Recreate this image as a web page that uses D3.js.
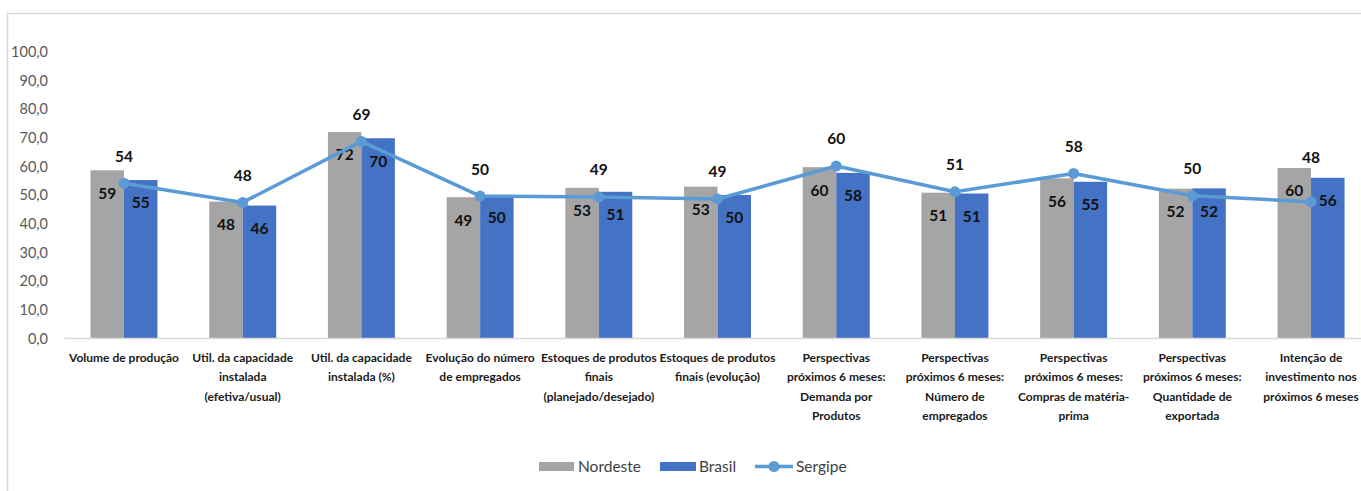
<!DOCTYPE html>
<html>
<head>
<meta charset="utf-8">
<script src="https://cdn.jsdelivr.net/npm/d3@7"></script>
<style>
  html, body { margin: 0; padding: 0; background: #fff; overflow: hidden; }
  svg { display: block; font-family: Lato, "Open Sans", sans-serif; }
</style>
</head>
<body>
<svg id="chart" width="1361" height="491"></svg>
<script>
const categories = [
  ["Volume de produção"],
  ["Util. da capacidade", "instalada", "(efetiva/usual)"],
  ["Util. da capacidade", "instalada (%)"],
  ["Evolução do número", "de empregados"],
  ["Estoques de produtos", "finais", "(planejado/desejado)"],
  ["Estoques de produtos", "finais (evolução)"],
  ["Perspectivas", "próximos 6 meses:", "Demanda por", "Produtos"],
  ["Perspectivas", "próximos 6 meses:", "Número de", "empregados"],
  ["Perspectivas", "próximos 6 meses:", "Compras de matéria-", "prima"],
  ["Perspectivas", "próximos 6 meses:", "Quantidade de", "exportada"],
  ["Intenção de", "investimento nos", "próximos 6 meses"]
];
const nordeste = [58.7, 47.8, 72.1, 49.3, 52.6, 53.0, 59.8, 50.9, 55.9, 52.3, 59.5];
const brasil   = [55.3, 46.4, 69.9, 50.1, 51.2, 50.1, 57.8, 50.6, 54.7, 52.4, 56.1];
const sergipe  = [54.2, 47.5, 68.8, 49.7, 49.4, 48.7, 60.2, 51.2, 57.6, 49.8, 47.7];
const yTicks = [0, 10, 20, 30, 40, 50, 60, 70, 80, 90, 100];
const seriesNames = ["Nordeste", "Brasil", "Sergipe"];

const colors = { Nordeste: "#A5A5A5", Brasil: "#4472C4", Sergipe: "#5B9BD5" };

const svg = d3.select("#chart");
svg.append("rect").attr("width", 1361).attr("height", 491).attr("fill", "#fff");

// chart frame (cropped on right)
svg.append("path").attr("d", "M7.5,491 V13.5 H1361")
  .attr("fill", "none").attr("stroke", "#D9D9D9").attr("stroke-width", 1.5);

const keys = categories.map((c, i) => i);
const x = d3.scaleBand().domain(keys).range([64.65, 1370.4]).paddingInner(0.436).paddingOuter(0.218);
const xs = d3.scaleBand().domain(["Nordeste", "Brasil"]).range([0, x.bandwidth()]);
const y = d3.scaleLinear().domain([0, 100]).range([338.5, 52]);
const fmtTick = d => d3.format(".1f")(d).replace(".", ",");

// y axis labels
const yAxis = d3.axisLeft(y).tickValues(yTicks).tickFormat(fmtTick).tickSize(0).tickPadding(0);
const gy = svg.append("g").attr("transform", "translate(48,0)").call(yAxis);
gy.select(".domain").remove();
gy.selectAll("text").attr("font-size", 14.5).attr("fill", "#595959").attr("font-family", "Lato, sans-serif");

// bars
const barData = [];
keys.forEach(i => {
  barData.push({ i, s: "Nordeste", v: nordeste[i] });
  barData.push({ i, s: "Brasil", v: brasil[i] });
});
svg.append("g").selectAll("rect").data(barData).join("rect")
  .attr("x", d => x(d.i) + xs(d.s))
  .attr("y", d => y(d.v))
  .attr("width", xs.bandwidth())
  .attr("height", d => y(0) - y(d.v))
  .attr("fill", d => colors[d.s]);

// baseline
svg.append("line").attr("x1", 64.65).attr("x2", 1361).attr("y1", y(0)).attr("y2", y(0))
  .attr("stroke", "#D9D9D9").attr("stroke-width", 1.5);

// bar labels
svg.append("g").selectAll("text").data(barData).join("text")
  .attr("x", d => x(d.i) + xs(d.s) + xs.bandwidth() / 2)
  .attr("y", d => y(d.v) + 23)
  .attr("dy", "0.35em")
  .attr("text-anchor", "middle")
  .attr("font-size", 15.5).attr("font-weight", "bold").attr("fill", "#111")
  .text(d => d3.format(".0f")(d.v));

// line
const cx = i => x(i) + x.bandwidth() / 2;
const line = d3.line().x((d, i) => cx(i)).y(d => y(d));
svg.append("path").datum(sergipe).attr("d", line)
  .attr("fill", "none").attr("stroke", colors.Sergipe).attr("stroke-width", 3.5)
  .attr("stroke-linejoin", "round");
svg.append("g").selectAll("circle").data(sergipe).join("circle")
  .attr("cx", (d, i) => cx(i)).attr("cy", d => y(d)).attr("r", 5.5)
  .attr("fill", colors.Sergipe);
svg.append("g").selectAll("text").data(sergipe).join("text")
  .attr("x", (d, i) => cx(i))
  .attr("y", (d, i) => Math.min(y(d) - 27, y(Math.max(nordeste[i], brasil[i])) - 10))
  .attr("dy", "0.35em")
  .attr("text-anchor", "middle")
  .attr("font-size", 15.5).attr("font-weight", "bold").attr("fill", "#111")
  .text(d => d3.format(".0f")(d));

// category labels
const gc = svg.append("g");
categories.forEach((lines, i) => {
  const t = gc.append("text").attr("text-anchor", "middle")
    .attr("font-size", 12).attr("font-weight", "bold").attr("fill", "#1a1a1a");
  lines.forEach((ln, j) => {
    t.append("tspan").attr("x", cx(i)).attr("y", 361.5 + j * 19.5).text(ln);
  });
});

// legend
const lg = svg.append("g").attr("font-size", 15.5).attr("fill", "#404040");
const ly = 466.5;
lg.append("rect").attr("x", 539).attr("y", ly - 4.5).attr("width", 35).attr("height", 9).attr("fill", colors.Nordeste);
lg.append("text").attr("x", 578).attr("y", ly).attr("dy", "0.35em").text(seriesNames[0]);
lg.append("rect").attr("x", 660).attr("y", ly - 4.5).attr("width", 36).attr("height", 9).attr("fill", colors.Brasil);
lg.append("text").attr("x", 699).attr("y", ly).attr("dy", "0.35em").text(seriesNames[1]);
lg.append("line").attr("x1", 755).attr("x2", 793).attr("y1", ly).attr("y2", ly)
  .attr("stroke", colors.Sergipe).attr("stroke-width", 3.5);
lg.append("circle").attr("cx", 774).attr("cy", ly).attr("r", 5.5).attr("fill", colors.Sergipe);
lg.append("text").attr("x", 796).attr("y", ly).attr("dy", "0.35em").text(seriesNames[2]);
</script>
</body>
</html>
